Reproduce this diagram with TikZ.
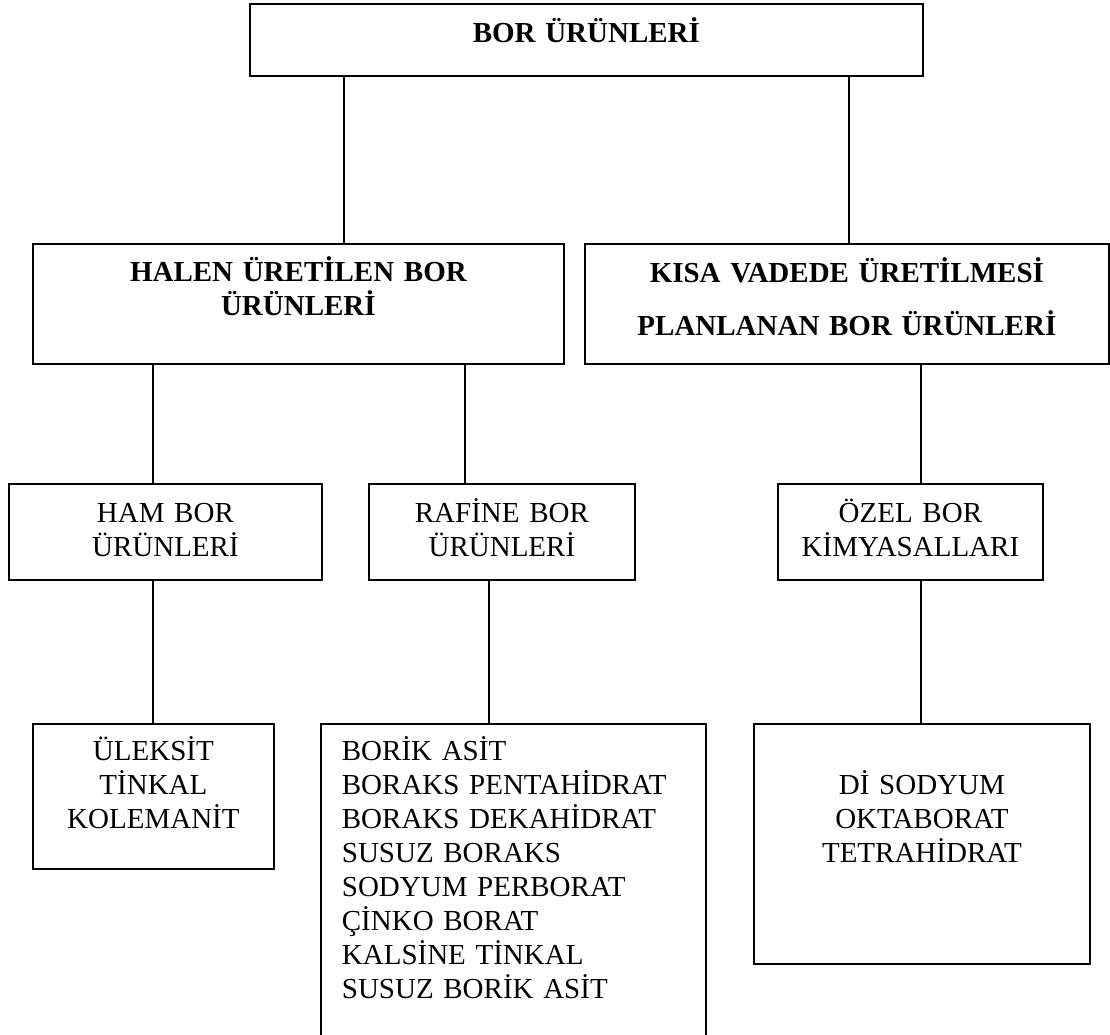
\documentclass[tikz,border=0pt]{standalone}
\usepackage{fontspec}
\setmainfont{Liberation Serif}
\usetikzlibrary{positioning}

\newcommand{\ustpay}[1]{\rule{0pt}{#1pt}}
\newcommand{\altpay}[1]{\rule[-#1pt]{0pt}{#1pt}}

\tikzset{
    kutu/.style={draw, line width=1.8pt, inner sep=0pt, align=center, anchor=north west},
    kalin/.style={font=\fontsize{29}{34}\selectfont\bfseries},
    duz/.style={font=\fontsize{29}{34}\selectfont},
    bag/.style={line width=1.8pt}
}

\begin{document}
\begin{tikzpicture}[x=1pt,y=-1pt]
        \useasboundingbox (0,0) rectangle (1110,1034);
        \clip (0,0) rectangle (1110,1034);

        \node[kutu,kalin,text width=673pt] (bor) at (249,3) {\ustpay{39}BOR ÜRÜNLERİ\altpay{33}};

        \node[kutu,kalin,text width=531pt] (halen) at (32,243) {\ustpay{38}HALEN ÜRETİLEN BOR\\ÜRÜNLERİ\altpay{48}};
        \node[kutu,kalin,text width=524pt] (kisa) at (584,243) {\ustpay{39}KISA VADEDE ÜRETİLMESİ\\[19pt]PLANLANAN BOR ÜRÜNLERİ\altpay{28}};

        \node[kutu,duz,text width=313pt] (ham) at (8,483) {\ustpay{39}HAM BOR\\ÜRÜNLERİ\altpay{23}};
        \node[kutu,duz,text width=266pt] (rafine) at (368,483) {\ustpay{39}RAFİNE BOR\\ÜRÜNLERİ\altpay{23}};
        \node[kutu,duz,text width=265pt] (ozel) at (777,483) {\ustpay{39}ÖZEL BOR\\KİMYASALLARI\altpay{23}};

        \node[kutu,duz,text width=241pt] (ham1) at (32,723) {\ustpay{37}ÜLEKSİT\\TİNKAL\\KOLEMANİT\altpay{40}};
        \node[kutu,duz,text width=343pt,inner xsep=21pt,align=left] (rafine1) at (320,723) {\ustpay{37}BORİK ASİT\\BORAKS PENTAHİDRAT\\BORAKS DEKAHİDRAT\\SUSUZ BORAKS\\SODYUM PERBORAT\\ÇİNKO BORAT\\KALSİNE TİNKAL\\SUSUZ BORİK ASİT\altpay{60}};
        \node[kutu,duz,text width=336pt] (ozel1) at (753,723) {\ustpay{71}Dİ SODYUM\\OKTABORAT\\TETRAHİDRAT\altpay{101}};

        \coordinate (h1) at (344,0);
        \coordinate (h2) at (849,0);
        \coordinate (h3) at (153,0);
        \coordinate (h4) at (465,0);
        \coordinate (h5) at (921,0);
        \coordinate (h6) at (489,0);

        \draw[bag] (bor.south -| h1) -- (halen.north -| h1);
        \draw[bag] (bor.south -| h2) -- (kisa.north -| h2);
        \draw[bag] (halen.south -| h3) -- (ham.north -| h3);
        \draw[bag] (halen.south -| h4) -- (rafine.north -| h4);
        \draw[bag] (kisa.south -| h5) -- (ozel.north -| h5);
        \draw[bag] (ham.south -| h3) -- (ham1.north -| h3);
        \draw[bag] (rafine.south -| h6) -- (rafine1.north -| h6);
        \draw[bag] (ozel.south -| h5) -- (ozel1.north -| h5);
\end{tikzpicture}
\end{document}
